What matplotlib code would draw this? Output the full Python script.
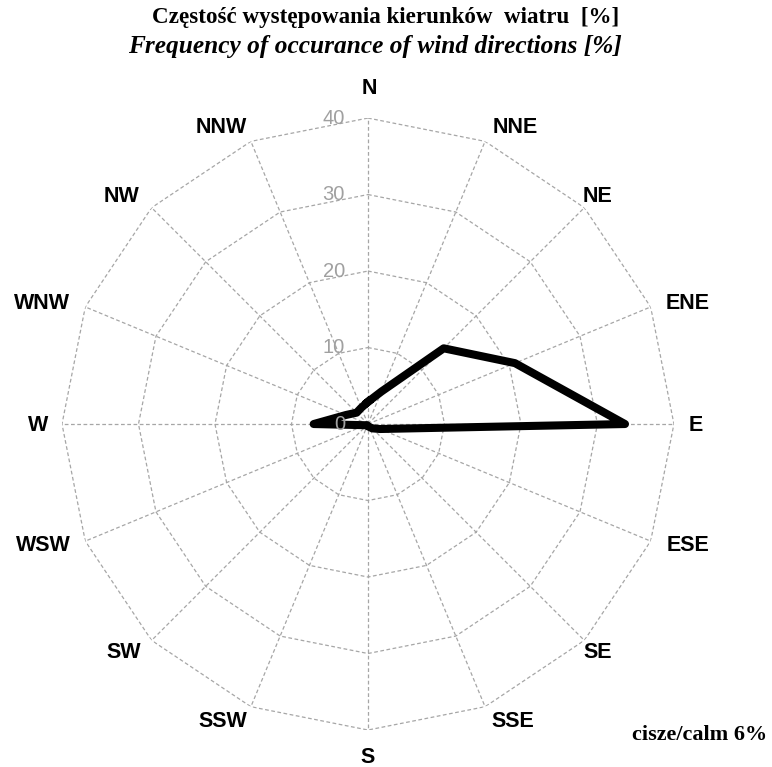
"""Wind rose: frequency of occurrence of wind directions (Excel-style radar)."""
import numpy as np
import matplotlib
matplotlib.use("Agg")
import matplotlib.pyplot as plt

# ---- data -------------------------------------------------------------------
directions = ["N", "NNE", "NE", "ENE", "E", "ESE", "SE", "SSE",
              "S", "SSW", "SW", "WSW", "W", "WNW", "NW", "NNW"]
freq = [2.9, 4.6, 14.0, 20.8, 33.6, 1.7, 0.8, 0.4,
        0.3, 0.2, 0.2, 0.4, 7.1, 3.1, 2.1, 2.3]
rings = [10, 20, 30, 40]
tick_vals = [0, 10, 20, 30, 40]
calm = 6

# ---- layout: label offsets (px) from the outer ring vertex ------------------
label_dx = [1, 30, 13, 37, 22, 37, 13, 28, 0, -28, -28, -42, -24, -43, -30, -30]
label_dy = [30, 14, 11, 3, -1, -4, -12, -15, -27, -15, -12, -4, -1, 3, 11, 14]
GRID = dict(color="#a6a6a6", lw=0.9, ls=(0, (3, 2)), zorder=1)

fig = plt.figure(figsize=(7.72, 7.67), dpi=100)
ax = fig.add_axes([0.0803, 0.0482, 0.7927, 0.7979], projection="polar")
ax.set_theta_zero_location("N")
ax.set_theta_direction(-1)
ax.set_ylim(0, 40)
ax.grid(False)
ax.spines["polar"].set_visible(False)
ax.set_xticks([]); ax.set_yticks([])

theta = np.deg2rad(np.arange(len(directions)) * 22.5)
tc = np.append(theta, theta[0])

# polygonal grid
for r in rings:
    ax.plot(tc, [r] * len(tc), **GRID)
for t in theta:
    ax.plot([t, t], [0, 40], **GRID)

# data
ax.plot(tc, np.append(freq, freq[0]), color="black", lw=5.8,
        solid_joinstyle="round", zorder=5)

# radial tick labels
for v in tick_vals:
    ax.annotate(str(v), xy=(0, v), xytext=(-23, 0), textcoords="offset pixels",
                ha="right", va="center", color="#a0a0a0", fontsize=14.5,
                family="Liberation Sans", zorder=6)

# direction labels
for t, lab, dx, dy in zip(theta, directions, label_dx, label_dy):
    ax.annotate(lab, xy=(t, 40), xytext=(dx, dy), textcoords="offset pixels",
                ha="center", va="center", fontsize=15.5, fontweight="bold",
                family="Liberation Sans", color="black")

fig.text(386 / 772, 1 - 18 / 767, "Częstość występowania kierunków  wiatru  [%]",
         ha="center", va="center", fontsize=16.6, fontweight="bold",
         family="Liberation Serif")
fig.text(375 / 772, 1 - 47 / 767, "Frequency of occurance of wind directions [%]",
         ha="center", va="center", fontsize=18.3, fontweight="bold",
         fontstyle="italic", family="Liberation Serif")
fig.text(700 / 772, 1 - 735 / 767, f"cisze/calm {calm}%", ha="center", va="center",
         fontsize=16, fontweight="bold", family="Liberation Serif")

fig.savefig("out.png", dpi=100)
